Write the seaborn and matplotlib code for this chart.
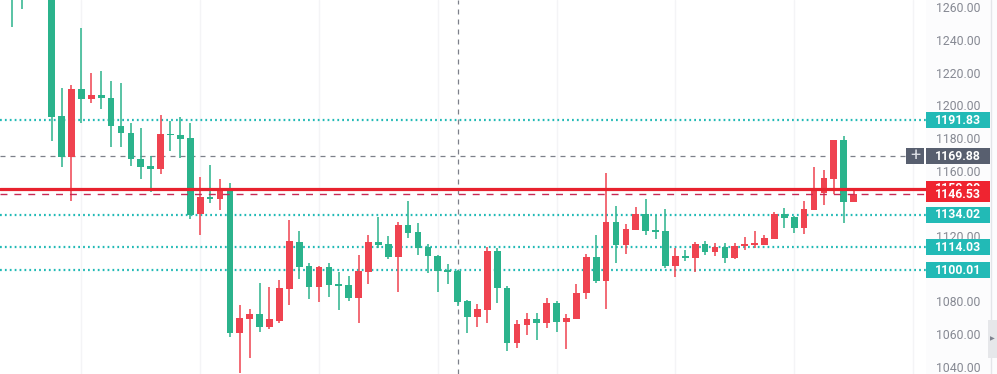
import numpy as np
import pandas as pd
import seaborn as sns
import matplotlib.pyplot as plt
from matplotlib.patches import Rectangle

sns.set_style("white")
plt.rcParams['font.family'] = ['Roboto', 'DejaVu Sans']

# candle index (bars off the top of the window are NaN)
bar_no = list(range(-4, 82))
opens = [1272, 1278, np.nan, np.nan,
         1278, 1194.4, 1169.3, 1210.8, 1204.7, 1207.3, 1205.3, 1188.5, 1183.8, 1167.9,
         1163.8, 1162.1, 1183.4, 1182.8, 1181.0, 1134.2, 1144.8, 1143.8, 1149.5, 1061.7,
         1070.2, 1073.1, 1065.4, 1069.1, 1088.6, 1117.2, 1102.5, 1089.9, 1102.1, 1091.5,
         1090.9, 1083.1, 1099.0, 1117.2, 1116.0, 1108.2, 1127.6, 1123.2, 1114.0, 1108.8,
         1100.1, 1099.7, 1081.1, 1071.1, 1075.6, 1111.9, 1089.2, 1055.5, 1066.4, 1070.0,
         1067.8, 1080.0, 1068.4, 1070.0, 1086.2, 1107.9, 1093.3, 1129.3, 1115.4, 1124.6,
         1134.2, 1124.6, 1124.2, 1102.5, 1108.7, 1107.2, 1116.0, 1111.3, 1114.0, 1107.2,
         1115.0, 1115.4, 1115.4, 1119.1, 1134.2, 1132.7, 1125.5, 1136.8, 1147.1, 1156.0,
         1179.7, 1141.9]
highs = [1280, 1284, np.nan, np.nan,
         1280, 1211.4, 1213.2, 1248.2, 1221.0, 1222.2, 1215.7, 1214.5, 1190.4, 1187.3,
         1169.9, 1195.0, 1191.6, 1193.6, 1190.0, 1156.8, 1164.2, 1155.8, 1153.6, 1078.6,
         1076.0, 1092.3, 1089.9, 1094.0, 1130.7, 1124.0, 1104.2, 1102.5, 1104.2, 1099.0,
         1096.4, 1109.1, 1121.5, 1132.7, 1120.9, 1129.7, 1142.4, 1128.7, 1115.8, 1109.3,
         1103.6, 1099.9, 1081.5, 1079.2, 1114.0, 1113.4, 1090.5, 1069.4, 1073.5, 1073.5,
         1083.1, 1081.3, 1073.1, 1091.3, 1109.7, 1121.5, 1159.3, 1139.3, 1128.3, 1138.9,
         1143.4, 1133.8, 1137.3, 1113.4, 1112.3, 1117.4, 1118.0, 1116.8, 1116.8, 1116.4,
         1120.1, 1124.0, 1121.5, 1135.4, 1138.2, 1133.2, 1142.5, 1163.4, 1161.3, 1179.7,
         1182.2, 1149.1]
lows = [1249.2, 1259.8, np.nan, np.nan,
        1179.3, 1163.4, 1142.5, 1190.0, 1202.2, 1198.5, 1175.6, 1175.6, 1163.8, 1155.6,
        1148.1, 1158.9, 1173.2, 1168.7, 1131.1, 1121.5, 1141.0, 1136.8, 1059.2, 1036.8,
        1046.3, 1062.3, 1063.7, 1067.8, 1078.6, 1094.7, 1082.1, 1080.7, 1083.7, 1075.6,
        1081.3, 1067.4, 1091.5, 1113.4, 1106.6, 1086.8, 1119.9, 1109.3, 1098.0, 1086.8,
        1091.5, 1078.0, 1061.3, 1065.4, 1067.8, 1080.0, 1050.6, 1052.5, 1060.2, 1057.2,
        1064.3, 1062.3, 1051.7, 1070.0, 1082.5, 1092.3, 1076.0, 1104.2, 1109.7, 1124.6,
        1121.5, 1118.9, 1101.5, 1095.9, 1105.8, 1099.0, 1109.3, 1108.7, 1104.5, 1106.6,
        1112.3, 1113.4, 1115.4, 1119.1, 1126.0, 1122.7, 1121.9, 1136.8, 1139.9, 1146.5,
        1128.7, 1141.9]
closes = [1268, 1270, np.nan, np.nan,
          1194.0, 1169.3, 1210.8, 1204.7, 1207.3, 1205.3, 1188.5, 1183.8, 1167.9, 1163.4,
          1162.1, 1183.4, 1182.6, 1180.5, 1133.8, 1145.0, 1143.6, 1149.5, 1061.7, 1070.5,
          1073.1, 1065.4, 1069.9, 1089.1, 1117.8, 1102.1, 1089.9, 1102.1, 1090.9, 1090.3,
          1083.1, 1099.5, 1117.2, 1115.4, 1108.2, 1127.6, 1122.9, 1113.4, 1108.8, 1099.7,
          1099.0, 1080.7, 1071.1, 1076.2, 1111.9, 1088.8, 1055.5, 1067.0, 1070.0, 1067.8,
          1080.0, 1068.4, 1070.5, 1085.8, 1107.9, 1093.3, 1129.3, 1115.4, 1125.0, 1134.2,
          1124.2, 1123.6, 1102.5, 1108.7, 1107.2, 1116.0, 1111.3, 1114.0, 1107.2, 1115.0,
          1115.8, 1116.4, 1119.5, 1134.2, 1132.1, 1125.5, 1137.5, 1150.1, 1156.6, 1179.7,
          1141.9, 1146.53]

# horizontal levels
support_levels = [1191.83, 1134.02, 1114.03, 1100.01]
red_level = 1150.00
last_price = 1146.53
cross_price = 1169.88
cross_bar = 41
# price scale labels (1100 and 1140 are hidden behind the level tags)
axis_ticks = [1040, 1060, 1080, 1120, 1160, 1180, 1200, 1220, 1240, 1260]

UP = '#ef4350'      # red candles close higher here
DOWN = '#2bb38c'
TEAL = '#22bab6'

df = pd.DataFrame({'bar': bar_no, 'open': opens, 'high': highs,
                   'low': lows, 'close': closes}).dropna()
df['color'] = np.where(df['close'] >= df['open'], UP, DOWN)
df['body_lo'] = df[['open', 'close']].min(axis=1)
df['body_h'] = (df['close'] - df['open']).abs().clip(lower=0.8)

ylim = (1036.35, 1265.5)
W, H = 997, 374
fig = plt.figure(figsize=(W / 100, H / 100), dpi=100)

# main chart area
ax = fig.add_axes([0, 0, 926 / W, 1])
ax.set_xlim(-5.22, -5.22 + 926 / 9.9)
ax.set_ylim(*ylim)
for s in ax.spines.values():
    s.set_visible(False)
ax.set_xticks([3, 15, 27, 39, 51, 63, 75, 87])
ax.set_yticks([])
ax.tick_params(length=0, labelbottom=False)
ax.grid(axis='x', color='#f4f4f6', lw=1)

ax.vlines(df['bar'], df['low'], df['high'], colors=df['color'], lw=1.1, zorder=3)
ax.bar(df['bar'], df['body_h'], bottom=df['body_lo'], width=0.68,
       color=df['color'], lw=0, zorder=4)

for lv in support_levels:
    ax.axhline(lv, color=TEAL, lw=1.6, ls=(0, (0.8, 1.4)), zorder=2)
ax.axhline(cross_price, xmax=906 / 926, color='#7d808a', lw=0.9, ls=(0, (4, 4)), zorder=2)
ax.axvline(cross_bar, color='#7d808a', lw=0.9, ls=(0, (4, 4)), zorder=2)
ax.axhline(red_level, color='#e8222e', lw=2.3, zorder=5)
ax.axhline(last_price, color='#c72a55', lw=1.0, ls=(0, (5, 5)), zorder=5)

# price scale overlay (pixel x units)
ax2 = fig.add_axes([0, 0, 1, 1], facecolor='none')
ax2.set_xlim(0, W)
ax2.set_ylim(*ylim)
ax2.axis('off')
ax2.add_patch(Rectangle((926, ylim[0]), 71, ylim[1] - ylim[0], color='#fcfcfd', lw=0, zorder=0))
ax2.axvline(991, color='#e4e5e9', lw=1, zorder=1)

for t in axis_ticks:
    ax2.text(958, t, f"{t:.2f}", ha='center', va='center', fontsize=8.8,
             color='#868993', zorder=2)

bh = 16 / 1.632


def price_box(price, label, fc, z=3):
    ax2.add_patch(Rectangle((926, price - bh / 2), 64, bh, color=fc, lw=0, zorder=z))
    ax2.text(958, price, label, ha='center', va='center', fontsize=8.8,
             fontweight='bold', color='white', zorder=z + 0.1)


for lv in support_levels:
    price_box(lv, f"{lv:.2f}", TEAL)
price_box(cross_price, f"{cross_price:.2f}", '#585f6f')
price_box(red_level, f"{red_level:.2f}", '#ef2430', z=4)
price_box(last_price, f"{last_price:.2f}", '#ef2430', z=5)

# crosshair "+" button
ax2.add_patch(Rectangle((906, cross_price - bh / 2), 18, bh, color='#585f6f', lw=0, zorder=3))
ax2.text(915, cross_price, '+', ha='center', va='center', fontsize=13,
         color='#d8dbe2', zorder=4)

# scroll handle at bottom right
ax2.add_patch(Rectangle((988, 1046.2), 9, 23.2, color='#e6e7ea', lw=0, zorder=3))
ax2.text(992.5, 1057.8, '\u25b6', ha='center', va='center', fontsize=4.5,
         color='#808490', zorder=4)

fig.savefig('out.png', dpi=100)
